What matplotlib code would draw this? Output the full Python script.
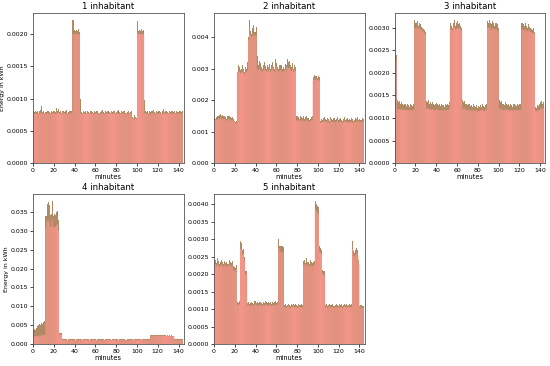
import numpy as np
import matplotlib
matplotlib.use("Agg")
import matplotlib.pyplot as plt

TITLES = ["1 inhabitant", "2 inhabitant", "3 inhabitant", "4 inhabitant", "5 inhabitant"]

# measured energy per minute slot (kWh)
actual_1 = np.array([
    80, 79, 81, 79, 80, 78, 80, 82, 88, 79, 80, 78,
    79, 81, 80, 79, 78, 80, 79, 81, 80, 79, 85, 80,
    84, 79, 80, 78, 81, 80, 79, 80, 82, 78, 79, 80,
    81, 80, 222, 206, 204, 207, 205, 208, 203, 100, 79, 78,
    80, 79, 81, 78, 80, 79, 78, 80, 81, 79, 78, 80,
    79, 81, 80, 78, 79, 80, 82, 79, 78, 80, 79, 81,
    80, 79, 78, 80, 79, 81, 80, 78, 79, 80, 82, 79,
    78, 80, 79, 81, 80, 78, 79, 80, 78, 79, 80, 72,
    70, 74, 71, 70, 221, 205, 207, 204, 208, 205, 206, 98,
    80, 79, 81, 78, 80, 79, 80, 82, 79, 78, 80, 79,
    81, 80, 79, 78, 80, 84, 79, 80, 81, 79, 78, 80,
    79, 80, 81, 79, 80, 78, 80, 79, 81, 80, 79, 80]) * 1e-5

actual_2 = np.array([
    142, 140, 145, 148, 150, 152, 155, 150, 153, 148, 150, 145,
    140, 148, 150, 145, 142, 147, 140, 135, 130, 132, 290, 310,
    305, 295, 300, 312, 298, 290, 305, 300, 320, 400, 455, 420,
    410, 430, 440, 415, 432, 340, 310, 325, 318, 305, 300, 310,
    320, 308, 300, 312, 305, 315, 298, 310, 320, 305, 300, 330,
    318, 305, 300, 310, 312, 298, 305, 300, 315, 310, 330, 320,
    325, 310, 305, 318, 300, 312, 305, 150, 148, 145, 140, 150,
    145, 142, 148, 140, 145, 150, 142, 138, 140, 145, 148, 272,
    280, 275, 278, 270, 276, 272, 135, 140, 138, 142, 145, 140,
    138, 142, 140, 135, 145, 140, 138, 142, 136, 140, 145, 138,
    140, 142, 138, 135, 140, 145, 138, 140, 142, 136, 140, 138,
    142, 140, 135, 138, 142, 140, 145, 138, 140, 136, 142, 140]) * 1e-5

actual_3 = np.array([
    300, 240, 140, 135, 138, 132, 136, 130, 128, 132, 130, 126,
    130, 128, 125, 132, 128, 126, 130, 318, 312, 315, 305, 310,
    308, 302, 300, 298, 295, 290, 138, 135, 140, 132, 136, 130,
    135, 132, 128, 130, 134, 130, 128, 132, 126, 130, 128, 125,
    130, 128, 132, 128, 135, 310, 305, 300, 312, 318, 305, 310,
    315, 308, 312, 305, 300, 140, 135, 138, 130, 132, 128, 130,
    126, 128, 124, 130, 126, 125, 128, 122, 126, 124, 128, 125,
    130, 126, 124, 128, 130, 315, 312, 318, 310, 308, 315, 312,
    305, 310, 308, 300, 140, 136, 138, 132, 130, 128, 135, 130,
    128, 132, 126, 130, 128, 125, 132, 130, 128, 126, 130, 128,
    132, 130, 312, 308, 305, 310, 305, 300, 308, 302, 300, 298,
    295, 300, 290, 125, 122, 128, 126, 130, 135, 138, 132, 136]) * 1e-5

actual_4 = np.array([
    38, 40, 36, 42, 48, 50, 52, 51, 55, 53, 58, 60,
    340, 372, 376, 368, 342, 345, 380, 340, 345, 342, 350, 352,
    330, 30, 29, 28, 12, 12, 13, 12, 12, 11, 12, 12,
    12, 13, 12, 12, 11, 12, 12, 13, 12, 12, 12, 11,
    12, 12, 13, 12, 12, 12, 11, 12, 13, 12, 12, 12,
    12, 11, 12, 12, 13, 12, 12, 12, 11, 12, 12, 13,
    12, 12, 12, 11, 12, 13, 12, 12, 12, 12, 11, 12,
    13, 12, 12, 12, 12, 11, 12, 12, 13, 12, 12, 12,
    11, 12, 12, 13, 12, 12, 12, 12, 11, 12, 12, 12,
    12, 12, 13, 12, 12, 23, 24, 23, 24, 23, 23, 24,
    24, 23, 24, 23, 23, 24, 23, 23, 22, 23, 22, 23,
    22, 23, 22, 22, 12, 12, 12, 13, 12, 12, 12, 12]) * 1e-4

actual_5 = np.array([
    235, 240, 232, 245, 238, 230, 236, 242, 234, 230, 238, 232,
    236, 230, 240, 234, 232, 238, 222, 220, 218, 225, 120, 118,
    122, 295, 290, 270, 272, 250, 210, 208, 118, 120, 116, 118,
    120, 118, 116, 122, 118, 120, 117, 119, 121, 118, 116, 120,
    118, 122, 119, 117, 120, 118, 121, 116, 120, 118, 119, 122,
    118, 120, 300, 282, 280, 281, 278, 112, 115, 110, 113, 116,
    112, 110, 115, 113, 116, 111, 114, 112, 110, 115, 113, 111,
    114, 112, 238, 240, 232, 245, 236, 230, 240, 235, 232, 236,
    238, 410, 400, 395, 392, 280, 275, 270, 212, 210, 208, 112,
    115, 110, 113, 116, 112, 111, 114, 110, 113, 115, 112, 110,
    114, 112, 115, 110, 113, 116, 112, 114, 110, 113, 115, 112,
    114, 295, 265, 262, 270, 275, 268, 240, 110, 112, 108, 110]) * 1e-5

# predicted energy per slot (kWh)
pred_1 = np.array([
    77, 76, 77, 77, 76, 77, 77, 77, 78, 77, 76, 77,
    77, 77, 76, 77, 77, 76, 77, 77, 77, 76, 78, 77,
    78, 77, 77, 76, 77, 77, 77, 76, 77, 77, 76, 77,
    77, 77, 200, 200, 199, 201, 200, 200, 199, 77, 77, 76,
    77, 77, 76, 77, 77, 77, 76, 77, 77, 77, 76, 77,
    77, 76, 77, 77, 77, 76, 77, 77, 76, 77, 77, 77,
    76, 77, 77, 77, 76, 77, 77, 76, 77, 77, 77, 76,
    77, 77, 76, 77, 77, 77, 76, 77, 76, 77, 77, 70,
    69, 69, 69, 68, 200, 200, 201, 199, 200, 200, 199, 77,
    77, 76, 77, 77, 77, 76, 77, 77, 76, 77, 77, 77,
    76, 77, 77, 77, 76, 78, 77, 77, 76, 77, 77, 77,
    77, 76, 77, 77, 77, 76, 77, 77, 76, 77, 77, 77]) * 1e-5

pred_2 = np.array([
    135, 136, 135, 138, 140, 140, 142, 140, 140, 138, 140, 136,
    135, 138, 140, 136, 135, 136, 134, 130, 126, 126, 285, 290,
    290, 285, 288, 292, 286, 282, 290, 288, 295, 390, 410, 405,
    400, 405, 410, 400, 405, 300, 295, 300, 298, 292, 290, 295,
    300, 294, 290, 296, 292, 298, 288, 295, 300, 292, 290, 305,
    300, 292, 290, 295, 296, 288, 292, 290, 298, 295, 305, 300,
    302, 295, 292, 298, 290, 296, 292, 135, 136, 135, 132, 138,
    135, 132, 136, 132, 135, 138, 132, 130, 132, 135, 136, 262,
    265, 265, 266, 262, 265, 262, 128, 130, 130, 132, 135, 130,
    130, 132, 130, 128, 135, 130, 130, 132, 128, 130, 135, 130,
    130, 132, 130, 128, 130, 135, 130, 130, 132, 128, 130, 130,
    132, 130, 128, 130, 132, 130, 135, 130, 130, 128, 132, 130]) * 1e-5

pred_3 = np.array([
    285, 230, 120, 118, 120, 118, 120, 118, 117, 118, 118, 117,
    118, 117, 116, 118, 118, 117, 118, 300, 300, 302, 298, 300,
    298, 296, 295, 292, 290, 286, 120, 120, 122, 118, 120, 118,
    120, 118, 117, 118, 120, 118, 117, 118, 116, 118, 117, 116,
    118, 117, 118, 117, 120, 298, 296, 294, 300, 302, 296, 298,
    300, 298, 300, 296, 294, 120, 120, 122, 118, 118, 117, 118,
    116, 117, 115, 118, 116, 116, 117, 114, 116, 115, 117, 116,
    118, 116, 115, 117, 118, 300, 300, 302, 298, 296, 300, 298,
    296, 298, 296, 292, 122, 120, 120, 118, 118, 117, 120, 118,
    117, 118, 116, 118, 117, 116, 118, 118, 117, 116, 118, 117,
    118, 118, 298, 296, 294, 298, 294, 292, 296, 292, 292, 290,
    288, 290, 285, 116, 115, 117, 116, 118, 120, 122, 120, 122]) * 1e-5

pred_4 = np.array([
    20, 20, 20, 21, 21, 22, 22, 22, 23, 23, 24, 24,
    310, 325, 330, 322, 310, 312, 330, 308, 312, 310, 315, 318,
    300, 25, 25, 24, 11, 11, 11, 11, 11, 10, 11, 11,
    11, 11, 11, 11, 10, 11, 11, 11, 11, 11, 11, 10,
    11, 11, 11, 11, 11, 11, 10, 11, 11, 11, 11, 11,
    11, 10, 11, 11, 11, 11, 11, 11, 10, 11, 11, 11,
    11, 11, 11, 10, 11, 11, 11, 11, 11, 11, 10, 11,
    11, 11, 11, 11, 11, 10, 11, 11, 11, 11, 11, 11,
    10, 11, 11, 11, 11, 11, 11, 11, 10, 11, 11, 11,
    11, 11, 11, 11, 11, 22, 22, 22, 22, 22, 22, 22,
    22, 22, 22, 22, 22, 22, 22, 22, 21, 22, 21, 22,
    21, 22, 21, 21, 11, 11, 11, 11, 11, 11, 11, 11]) * 1e-4

pred_5 = np.array([
    225, 228, 222, 230, 226, 220, 225, 228, 224, 220, 226, 222,
    225, 220, 228, 224, 222, 226, 212, 210, 208, 214, 112, 110,
    114, 272, 270, 255, 258, 238, 200, 198, 110, 112, 108, 110,
    112, 110, 108, 114, 110, 112, 109, 111, 113, 110, 108, 112,
    110, 114, 111, 109, 112, 110, 113, 108, 112, 110, 111, 114,
    110, 112, 275, 265, 262, 264, 260, 105, 107, 103, 106, 108,
    105, 103, 107, 106, 108, 104, 106, 105, 103, 107, 106, 104,
    106, 105, 225, 228, 220, 230, 224, 220, 228, 224, 220, 224,
    226, 385, 380, 375, 372, 265, 262, 258, 200, 198, 196, 105,
    107, 103, 106, 108, 105, 104, 106, 103, 106, 107, 105, 103,
    106, 105, 107, 103, 106, 108, 105, 106, 103, 106, 107, 105,
    106, 272, 252, 250, 256, 260, 254, 228, 103, 105, 101, 103]) * 1e-5

ACTUAL = [actual_1, actual_2, actual_3, actual_4, actual_5]
PRED = [pred_1, pred_2, pred_3, pred_4, pred_5]

COLS = [0.060, 0.389, 0.7176]
ROWS = [0.5546, 0.0601]
W, H = 0.274, 0.4107

fig = plt.figure(figsize=(5.5, 3.66), dpi=100)

for i in range(5):
    r, c = divmod(i, 3)
    ax = fig.add_axes([COLS[c], ROWS[r], W, H])
    x = np.arange(len(ACTUAL[i]))
    ax.bar(x, ACTUAL[i], width=1.0, align='edge', color='#b08a64')
    # predicted bars on top, thin gaps let the measured colour show through
    ax.bar(x + 0.05, PRED[i], width=0.9, align='edge', color='#f8968c', snap=False)
    ax.set_xlim(0, 145)
    ax.set_xticks(range(0, 141, 20))
    ax.set_title(TITLES[i], fontsize=6.2, pad=3)
    ax.set_xlabel('minutes', fontsize=4.8, labelpad=1)
    if c == 0:
        ax.set_ylabel('Energy in kWh', fontsize=4.5, labelpad=1)
    ax.tick_params(labelsize=4.5, length=2, width=0.5, pad=1.5)
    for s in ax.spines.values():
        s.set_linewidth(0.6)
        s.set_color('#555555')

fig.savefig('out.png', dpi=100)
